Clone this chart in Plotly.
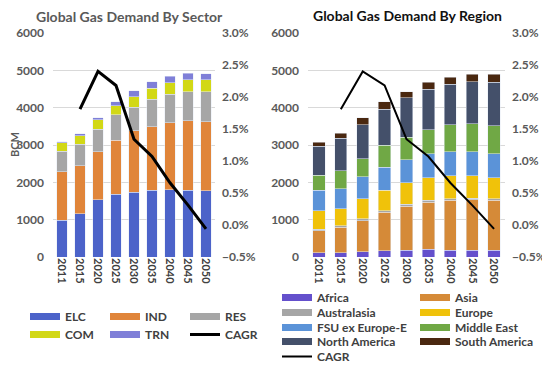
import plotly.graph_objects as go

years = ["2011", "2015", "2020", "2025", "2030", "2035", "2040", "2045", "2050"]

# Sector demand (BCM)
elc = [990, 1164, 1540, 1683, 1728, 1790, 1808, 1790, 1773]
ind = [1293, 1280, 1280, 1450, 1656, 1702, 1792, 1854, 1853]
res = [555, 582, 600, 672, 627, 734, 760, 787, 805]
com = [224, 224, 250, 242, 286, 295, 313, 314, 314]
trn = [28, 45, 63, 116, 153, 170, 170, 179, 161]

# Region demand (BCM)
africa = [117, 117, 144, 162, 180, 208, 180, 180, 180]
asia = [587, 677, 831, 1038, 1183, 1263, 1336, 1354, 1336]
australasia = [46, 46, 45, 45, 45, 45, 45, 46, 45]
europe = [495, 450, 541, 542, 578, 605, 614, 595, 560]
fsu = [542, 542, 587, 613, 614, 641, 650, 650, 641]
middle_east = [406, 478, 478, 587, 604, 650, 722, 749, 758]
north_america = [767, 876, 921, 966, 1065, 1083, 1083, 1119, 1155]
south_america = [118, 135, 180, 199, 162, 180, 180, 207, 216]

# CAGR (fraction)
cagr = [None, 0.0181, 0.0240, 0.0218, 0.0134, 0.0107, 0.0066, 0.0031, -0.0006]

# page offset (browser body margin)
OFF = 8
W, H = 550 - OFF, 369 - OFF
def fx(px): return (px - OFF) / W
def fy(py): return 1 - (py - OFF) / H

# (name, values, colour, legend swatch left x, legend row centre y) in page pixels
sector_series = [("ELC", elc, "#4C63C9", 30, 317), ("IND", ind, "#E0853A", 110, 317),
                 ("RES", res, "#A6A6A6", 190, 317), ("COM", com, "#D2D816", 30, 335),
                 ("TRN", trn, "#7F7FD8", 110, 335)]
region_series = [("Africa", africa, "#6450CC", 282, 298), ("Asia", asia, "#D58A38", 420, 298),
                 ("Australasia", australasia, "#A6A6A6", 282, 313), ("Europe", europe, "#F0C20A", 420, 313),
                 ("FSU ex Europe-E", fsu, "#5B93D8", 282, 328), ("Middle East", middle_east, "#70A845", 420, 328),
                 ("North America", north_america, "#44506A", 282, 342), ("South America", south_america, "#4A2810", 420, 342)]

legfont = dict(family="Lato", size=12, color="#404040", weight="bold")
legends = {}
def leg_slot(x_left, y_center):
    key = "legend" if not legends else "legend%d" % (len(legends) + 1)
    legends[key] = dict(x=fx(x_left - 5), y=fy(y_center - 15), xanchor="left", yanchor="top",
                        orientation="v", font=legfont, bgcolor="rgba(0,0,0,0)",
                        itemwidth=30, borderwidth=0)
    return key

fig = go.Figure()
for name, vals, col, lx, ly in sector_series:
    fig.add_trace(go.Bar(x=years, y=vals, marker_color=col, name=name, xaxis="x", yaxis="y",
                         showlegend=False, legendgroup=name))
    fig.add_trace(go.Scatter(x=[None], y=[None], mode="lines", line=dict(color=col, width=7),
                             name=name, legend=leg_slot(lx, ly), legendgroup=name, xaxis="x", yaxis="y"))
fig.add_trace(go.Scatter(x=years, y=cagr, mode="lines", line=dict(color="black", width=3),
                         name="CAGR", xaxis="x", yaxis="y2", legend=leg_slot(190, 335)))

for name, vals, col, lx, ly in region_series:
    fig.add_trace(go.Bar(x=years, y=vals, marker_color=col, name=name, xaxis="x2", yaxis="y3",
                         showlegend=False, legendgroup=name))
    fig.add_trace(go.Scatter(x=[None], y=[None], mode="lines", line=dict(color=col, width=7),
                             name=name, legend=leg_slot(lx, ly), legendgroup=name, xaxis="x2", yaxis="y3"))
fig.add_trace(go.Scatter(x=years, y=cagr, mode="lines", line=dict(color="black", width=2),
                         name="CAGR", xaxis="x2", yaxis="y4", legend=leg_slot(282, 357)))

ydom = [fy(257), fy(33)]
tickfont = dict(family="Lato", size=12, color="#595959", weight="bold")
xtickfont = dict(family="Lato", size=11, color="#404040", weight="bold")
grid = "#D9D9D9"

fig.update_layout(
    width=W, height=H, margin=dict(l=0, r=0, t=0, b=0, autoexpand=False),
    paper_bgcolor="white", plot_bgcolor="white",
    barmode="stack", bargap=0.44,
    font=dict(family="Lato"),
    xaxis=dict(domain=[fx(53), fx(215)], anchor="y", type="category", tickangle=90,
               tickfont=xtickfont, showgrid=False, ticks="", showline=False, automargin=False),
    yaxis=dict(domain=ydom, range=[0, 6000], dtick=1000, tickfont=tickfont, gridcolor=grid,
               zeroline=False, ticklabelstandoff=8, automargin=False),
    yaxis2=dict(overlaying="y", side="right", anchor="x", range=[-0.005, 0.03], dtick=0.005,
                tickformat=".1%", tickfont=tickfont, showgrid=False, zeroline=False,
                ticklabelstandoff=6, automargin=False),
    xaxis2=dict(domain=[fx(308), fx(505)], anchor="y3", type="category", tickangle=90,
                tickfont=xtickfont, showgrid=False, ticks="", showline=False, automargin=False),
    yaxis3=dict(domain=ydom, anchor="x2", range=[0, 6000], dtick=1000, tickfont=tickfont,
                gridcolor=grid, zeroline=False, ticklabelstandoff=8, automargin=False),
    yaxis4=dict(overlaying="y3", side="right", anchor="x2", range=[-0.005, 0.03], dtick=0.005,
                tickformat=".1%", tickfont=tickfont, showgrid=False, zeroline=False,
                ticklabelstandoff=6, automargin=False),
    annotations=[
        dict(text="Global Gas Demand By Sector", x=fx(129), y=fy(17), xref="paper", yref="paper",
             xanchor="center", yanchor="middle", showarrow=False,
             font=dict(family="Lato", size=14, color="#595959", weight="bold")),
        dict(text="Global Gas Demand By Region", x=fx(407), y=fy(15), xref="paper", yref="paper",
             xanchor="center", yanchor="middle", showarrow=False,
             font=dict(family="Lato", size=14, color="#111111", weight="bold")),
        dict(text="BCM", x=fx(15), y=fy(145), xref="paper", yref="paper", textangle=-90,
             xanchor="center", yanchor="middle", showarrow=False,
             font=dict(family="Lato", size=11, color="#595959", weight="bold")),
    ],
    **legends,
)

fig.write_html("out.html")
